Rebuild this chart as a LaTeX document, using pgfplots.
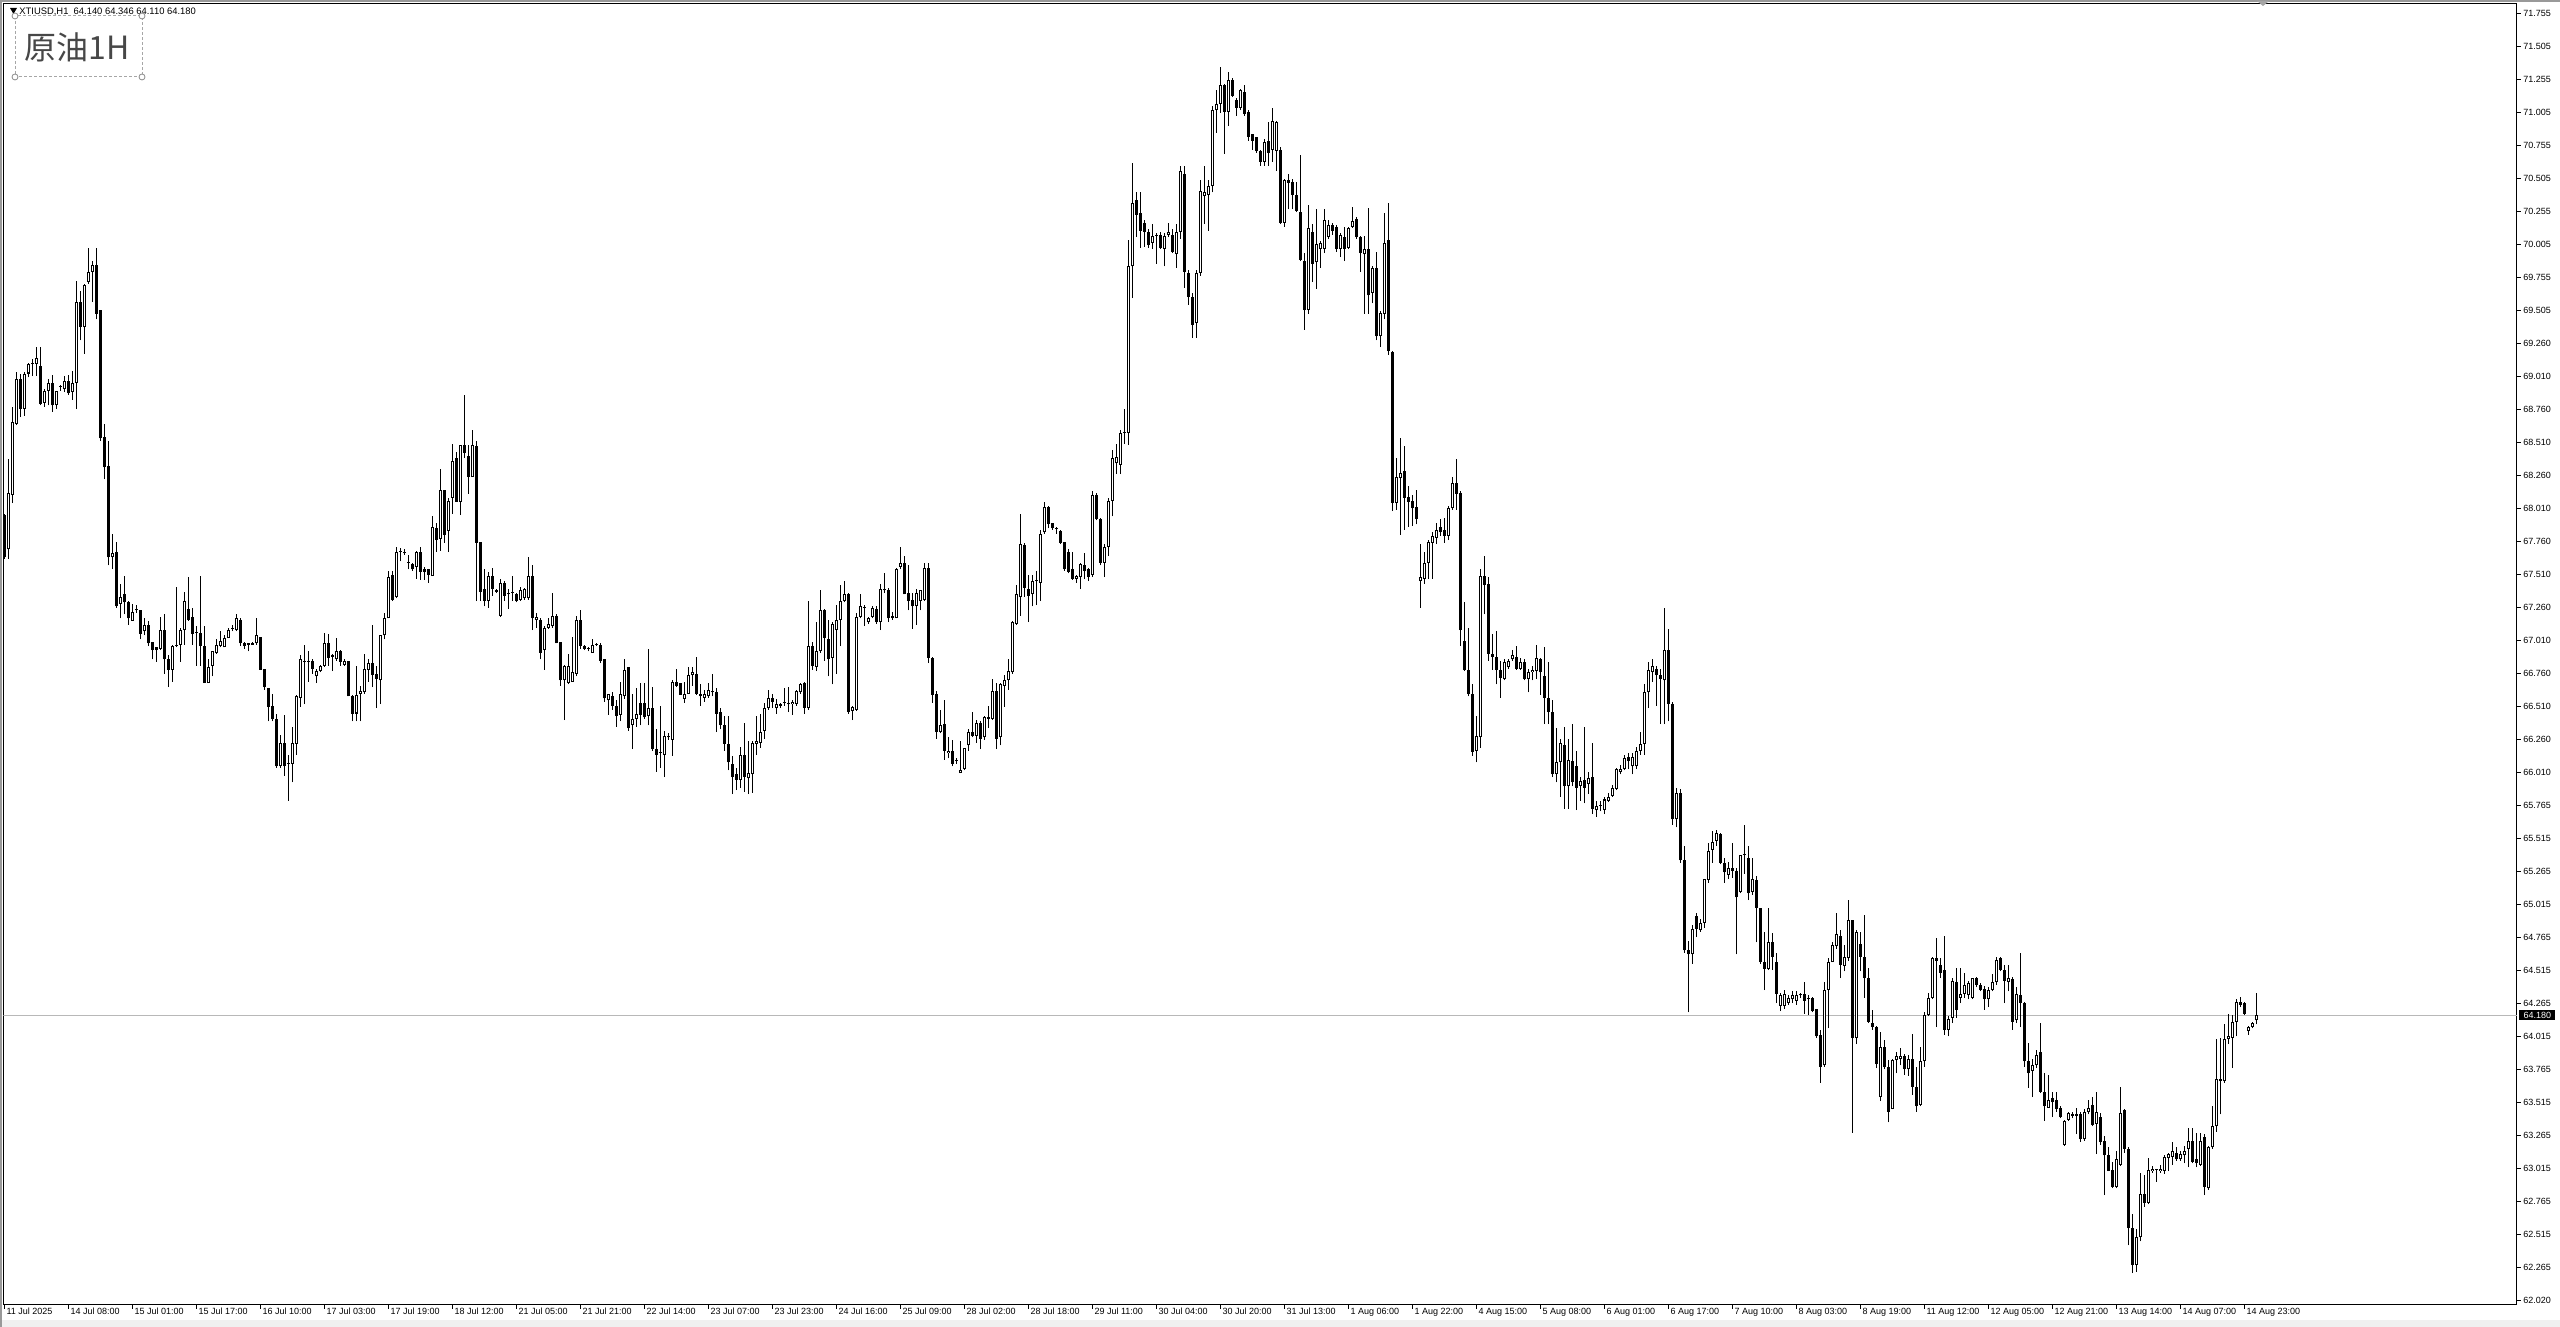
\documentclass[border=0pt]{standalone}
\usepackage{pgfplots}
\pgfplotsset{compat=1.18}
\usepackage{pgfplotstable}
\usepackage{fontspec}
\setmainfont{Liberation Sans}
\newfontfamily\cjk{Noto Sans CJK SC}

\pgfplotstableread{
o h l c
67.96 67.97 67.63 67.64
67.70 68.38 67.63 68.13
68.11 68.78 68.05 68.66
68.65 69.04 68.64 68.99
68.99 69.03 68.70 68.76
68.76 69.04 68.71 69.03
69.03 69.11 69.00 69.10
69.10 69.14 69.01 69.11
69.10 69.23 69.01 69.15
69.09 69.23 68.79 68.80
68.81 68.91 68.78 68.90
68.90 68.99 68.79 68.96
68.96 69.02 68.74 68.79
68.79 68.90 68.76 68.90
68.93 68.94 68.90 68.935
68.91 69.01 68.89 68.97
68.97 69.02 68.87 68.88
68.89 69.05 68.83 68.96
68.96 69.73 68.76 69.57
69.57 69.65 69.28 69.38
69.38 69.71 69.18 69.70
69.72 69.98 69.71 69.80
69.80 69.88 69.57 69.85
69.85 69.98 69.44 69.48
69.51 69.51 68.52 68.54
68.55 68.65 68.23 68.32
68.33 68.52 67.58 67.64
67.64 67.82 67.55 67.67
67.68 67.76 67.26 67.27
67.29 67.44 67.18 67.34
67.36 67.50 67.21 67.30
67.30 67.31 67.13 67.18
67.16 67.29 67.16 67.23
67.24 67.28 67.22 67.24
67.24 67.24 67.02 67.06
67.08 67.18 67.05 67.13
67.13 67.16 66.97 66.99
67.00 67.00 66.87 66.94
66.96 66.96 66.85 66.94
66.95 67.19 66.94 67.09
67.09 67.21 66.76 66.87
66.87 66.90 66.66 66.79
66.79 66.98 66.70 66.97
66.97 67.42 66.96 66.98
66.98 67.11 66.85 67.09
67.09 67.38 66.98 67.31
67.25 67.49 67.16 67.17
67.19 67.26 66.98 67.06
67.07 67.12 66.82 67.07
67.07 67.50 66.82 66.97
66.97 67.12 66.69 66.69
66.69 66.87 66.69 66.81
66.82 66.93 66.74 66.93
66.92 67.02 66.91 66.98
66.97 67.08 66.96 67.01
66.96 67.05 66.96 67.03
67.03 67.11 67.03 67.09
67.10 67.13 67.08 67.11
67.09 67.21 67.08 67.18
67.17 67.18 66.97 66.99
66.99 67.00 66.95 66.97
66.99 66.99 66.93 66.98
66.98 67.00 66.98 66.99
66.99 67.18 66.98 67.05
67.04 67.04 66.79 66.79
66.80 66.80 66.64 66.66
66.65 66.65 66.40 66.51
66.52 66.61 66.40 66.42
66.42 66.46 66.05 66.06
66.06 66.30 66.05 66.24
66.24 66.45 65.99 66.06
66.08 66.15 65.80 66.085
66.08 66.36 65.94 66.24
66.23 66.60 66.15 66.59
66.58 66.90 66.51 66.87
66.86 66.98 66.53 66.85
66.85 66.93 66.70 66.86
66.86 66.87 66.76 66.80
66.74 66.80 66.69 66.78
66.78 66.83 66.77 66.82
66.82 67.07 66.81 66.99
66.99 67.06 66.82 66.88
66.89 66.91 66.78 66.90
66.87 67.03 66.86 66.93
66.93 66.94 66.82 66.85
66.83 66.87 66.82 66.86
66.86 66.86 66.59 66.59
66.59 66.60 66.40 66.46
66.46 66.82 66.40 66.60
66.61 66.67 66.40 66.63
66.62 66.91 66.61 66.80
66.79 66.87 66.70 66.84
66.84 67.13 66.66 66.75
66.76 66.82 66.50 66.72
66.71 67.05 66.53 67.05
67.05 67.22 67.02 67.18
67.18 67.54 67.18 67.49
67.51 67.54 67.31 67.32
67.34 67.72 67.33 67.68
67.68 67.71 67.61 67.685
67.67 67.70 67.66 67.68
67.60 67.66 67.55 67.605
67.59 67.60 67.54 67.55
67.57 67.69 67.48 67.68
67.68 67.72 67.47 67.53
67.55 67.57 67.47 67.53
67.55 67.55 67.45 67.51
67.50 67.95 67.50 67.87
67.86 67.90 67.68 67.77
67.78 68.31 67.69 68.15
68.15 68.15 67.75 67.81
67.84 68.09 67.68 68.07
68.09 68.50 67.97 68.37
68.39 68.44 68.06 68.06
68.06 68.49 67.96 68.49
68.49 68.87 68.39 68.43
68.41 68.49 68.12 68.25
68.25 68.60 68.25 68.49
68.48 68.52 67.31 67.75
67.76 67.76 67.31 67.38
67.40 67.55 67.27 67.31
67.31 67.53 67.26 67.50
67.50 67.56 67.35 67.40
67.39 67.40 67.37 67.38
67.20 67.48 67.19 67.45
67.45 67.46 67.31 67.35
67.36 67.40 67.25 67.365
67.37 67.50 67.31 67.375
67.36 67.37 67.30 67.31
67.32 67.42 67.31 67.39
67.33 67.41 67.32 67.40
67.33 67.64 67.32 67.50
67.50 67.58 67.09 67.18
67.17 67.22 67.11 67.19
67.17 67.18 66.87 66.92
66.94 67.12 66.79 67.11
67.11 67.18 67.10 67.14
67.12 67.37 67.11 67.20
67.20 67.21 66.99 66.99
67.00 67.00 66.67 66.71
66.71 66.83 66.41 66.82
66.69 66.91 66.68 66.82
66.70 67.04 66.70 66.77
66.76 67.20 66.74 67.17
67.17 67.24 66.95 66.97
66.97 66.98 66.94 66.95
66.95 66.96 66.93 66.955
66.92 67.02 66.92 66.98
66.98 66.99 66.97 66.985
66.98 66.99 66.84 66.86
66.87 66.87 66.55 66.575
66.56 66.61 66.45 66.61
66.59 66.62 66.49 66.52
66.52 66.56 66.36 66.44
66.45 66.70 66.40 66.61
66.59 66.87 66.57 66.79
66.81 66.81 66.33 66.35
66.37 66.61 66.19 66.42
66.42 66.65 66.36 66.46
66.54 66.69 66.37 66.45
66.54 66.69 66.42 66.43
66.44 66.95 66.37 66.50
66.50 66.66 66.18 66.19
66.19 66.34 66.02 66.15
66.16 66.52 66.05 66.165
66.15 66.33 65.98 66.29
66.28 66.31 66.26 66.29
66.26 66.71 66.14 66.70
66.70 66.80 66.66 66.67
66.69 66.69 66.60 66.60
66.57 66.70 66.54 66.61
66.61 66.81 66.61 66.75
66.75 66.81 66.67 66.77
66.76 66.89 66.60 66.61
66.61 66.68 66.52 66.59
66.58 66.64 66.55 66.61
66.59 66.69 66.58 66.64
66.63 66.76 66.59 66.62
66.62 66.65 66.32 66.46
66.47 66.50 66.34 66.37
66.37 66.44 66.18 66.23
66.23 66.44 66.03 66.09
66.08 66.14 65.85 65.98
66.00 66.05 65.88 65.96
65.96 66.21 65.90 66.15
66.15 66.39 65.87 65.98
65.97 66.25 65.85 66.01
66.00 66.25 65.86 66.24
66.23 66.44 66.15 66.25
66.24 66.46 66.20 66.32
66.33 66.54 66.27 66.50
66.50 66.64 66.49 66.575
66.575 66.61 66.50 66.55
66.50 66.57 66.46 66.53
66.52 66.54 66.50 66.53
66.55 66.65 66.52 66.54
66.53 66.66 66.47 66.535
66.53 66.56 66.45 66.55
66.53 66.64 66.52 66.63
66.62 66.69 66.61 66.68
66.69 66.70 66.46 66.50
66.50 67.31 66.49 66.97
66.97 67.00 66.79 66.82
66.81 67.15 66.78 66.93
66.93 67.39 66.92 67.24
67.24 67.25 66.86 67.03
67.02 67.17 66.74 66.87
66.88 67.15 66.68 67.14
67.09 67.28 66.76 67.17
67.17 67.43 66.97 67.31
67.31 67.46 67.30 67.36
67.36 67.37 66.46 66.47
66.48 66.52 66.41 66.51
66.49 67.22 66.48 67.19
67.19 67.36 67.18 67.27
67.26 67.28 67.12 67.265
67.15 67.19 67.14 67.18
67.19 67.27 67.18 67.26
67.25 67.27 67.14 67.15
67.15 67.44 67.09 67.40
67.40 67.52 67.37 67.39
67.39 67.41 67.15 67.18
67.20 67.23 67.17 67.18
67.18 67.56 67.18 67.55
67.57 67.72 67.55 67.60
67.60 67.65 67.36 67.36
67.37 67.58 67.24 67.31
67.32 67.37 67.10 67.27
67.27 67.40 67.13 67.37
67.31 67.39 67.24 67.39
67.32 67.60 67.31 67.56
67.56 67.60 66.84 66.88
66.88 66.89 66.54 66.60
66.61 66.63 66.27 66.32
66.32 66.49 66.31 66.37
66.38 66.56 66.11 66.18
66.16 66.28 66.12 66.18
66.18 66.26 66.06 66.08
66.10 66.12 66.08 66.105
66.01 66.25 66.01 66.03
66.04 66.20 66.03 66.20
66.22 66.34 66.18 66.32
66.32 66.47 66.28 66.29
66.29 66.41 66.24 66.39
66.39 66.40 66.19 66.27
66.28 66.44 66.26 66.43
66.42 66.52 66.35 66.43
66.42 66.72 66.41 66.63
66.63 66.69 66.19 66.27
66.28 66.69 66.22 66.68
66.67 66.75 66.51 66.71
66.71 66.87 66.64 66.78
66.77 67.16 66.76 67.15
67.14 67.43 67.13 67.36
67.34 67.97 67.20 67.74
67.73 67.75 67.34 67.41
67.40 67.51 67.15 67.35
67.36 67.51 67.27 67.46
67.46 67.54 67.28 67.465
67.45 67.85 67.31 67.82
67.83 68.06 67.82 68.02
68.02 68.03 67.86 67.89
67.90 67.90 67.85 67.86
67.855 67.87 67.82 67.86
67.84 67.85 67.74 67.75
67.76 67.76 67.54 67.55
67.68 67.70 67.52 67.53
67.55 67.68 67.47 67.48
67.48 67.51 67.45 67.50
67.49 67.60 67.40 67.59
67.58 67.67 67.48 67.54
67.55 67.56 67.46 67.49
67.51 68.14 67.49 68.11
68.11 68.13 67.92 67.93
67.93 67.94 67.58 67.60
67.60 67.74 67.49 67.72
67.72 68.09 67.65 68.07
68.07 68.45 67.95 68.39
68.35 68.50 68.27 68.40
68.34 68.60 68.27 68.58
68.58 68.76 68.50 68.59
68.58 70.04 68.49 69.84
69.84 70.62 69.60 70.32
70.34 70.40 70.06 70.23
70.24 70.40 69.98 70.11
70.17 70.19 69.99 70.10
70.10 70.12 69.98 70.00
70.02 70.16 69.97 70.07
70.07 70.09 69.86 70.075
70.08 70.10 69.97 69.98
69.97 70.09 69.84 70.07
70.08 70.17 70.06 70.10
70.08 70.12 69.94 69.95
69.93 70.16 69.83 70.10
70.10 70.60 70.05 70.56
70.54 70.60 69.68 69.80
69.79 69.81 69.55 69.61
69.61 69.64 69.30 69.40
69.41 69.81 69.30 69.79
69.79 70.49 69.77 70.41
70.37 70.60 70.16 70.40
70.38 70.49 70.11 70.45
70.45 71.05 70.40 71.02
71.02 71.17 70.85 71.07
71.07 71.35 71.00 71.21
71.21 71.22 70.69 71.01
71.01 71.31 70.90 71.25
71.25 71.26 71.12 71.13
71.10 71.11 70.98 71.04
71.04 71.18 71.02 71.17
71.16 71.21 70.98 70.99
71.01 71.02 70.79 70.82
70.84 70.84 70.72 70.79
70.82 70.82 70.70 70.71
70.71 70.72 70.60 70.63
70.63 70.80 70.60 70.78
70.79 70.93 70.60 70.70
70.72 71.04 70.63 70.94
70.71 70.94 70.56 70.93
70.72 70.74 70.16 70.17
70.17 70.50 70.14 70.49
70.49 70.54 70.27 70.47
70.48 70.50 70.27 70.38
70.38 70.48 70.25 70.26
70.25 70.68 69.88 69.89
69.88 69.94 69.36 69.51
69.51 70.30 69.48 70.13
70.10 70.16 69.72 69.86
69.87 70.27 69.67 70.01
69.97 70.03 69.83 70.02
69.97 70.27 69.94 70.19
70.06 70.19 70.05 70.15
70.15 70.17 70.08 70.11
70.14 70.15 69.95 69.97
69.97 70.09 69.91 70.08
70.06 70.14 69.88 69.97
69.98 70.14 69.97 70.13
70.14 70.29 70.13 70.18
70.20 70.21 70.05 70.06
70.06 70.07 69.80 69.94
69.93 70.07 69.48 69.97
69.97 70.28 69.48 69.62
69.64 69.84 69.56 69.83
69.83 69.95 69.28 69.31
69.31 69.50 69.23 69.49
69.48 70.24 69.44 70.02
70.04 70.32 69.17 69.20
69.19 69.20 67.99 68.05
68.05 68.39 68.00 68.25
68.24 68.54 67.81 68.28
68.29 68.48 67.85 68.09
68.10 68.18 67.87 68.06
68.07 68.11 67.88 68.01
68.02 68.15 67.89 67.93
67.46 67.74 67.26 67.49
67.48 67.68 67.44 67.60
67.60 67.77 67.48 67.76
67.75 67.83 67.48 67.80
67.79 67.90 67.74 67.85
67.87 67.93 67.80 67.83
67.85 67.94 67.75 67.80
67.80 68.03 67.77 68.01
68.01 68.25 68.00 68.20
68.20 68.38 68.00 68.12
68.13 68.14 66.97 67.09
67.01 67.30 66.78 66.79
66.79 67.11 66.59 66.61
66.61 66.68 66.14 66.17
66.18 66.44 66.09 66.29
66.28 67.55 66.20 67.50
67.50 67.65 67.21 67.43
67.44 67.49 66.86 66.91
66.91 67.06 66.79 66.89
66.89 67.08 66.68 66.79
66.79 66.86 66.58 66.73
66.72 66.87 66.71 66.85
66.81 66.87 66.80 66.86
66.87 66.94 66.86 66.90
66.89 66.97 66.79 66.80
66.80 66.88 66.79 66.85
66.85 66.87 66.71 66.72
66.72 66.80 66.62 66.77
66.77 66.82 66.71 66.79
66.78 66.98 66.72 66.88
66.87 66.88 66.60 66.77
66.74 66.96 66.38 66.58
66.58 66.85 66.38 66.47
66.47 66.56 65.98 66.00
66.00 66.35 65.94 66.09
66.09 66.27 65.83 66.24
66.22 66.36 65.74 65.91
65.91 66.27 65.74 66.11
66.10 66.38 65.91 65.94
66.06 66.18 65.73 65.90
65.91 65.98 65.80 65.95
65.96 66.36 65.78 65.90
65.93 66.02 65.85 65.97
65.98 66.24 65.70 65.74
65.73 65.80 65.68 65.76
65.76 65.80 65.72 65.765
65.73 65.83 65.70 65.81
65.80 65.86 65.79 65.83
65.84 65.92 65.83 65.90
65.89 66.05 65.88 66.04
66.02 66.07 66.00 66.04
66.04 66.15 66.03 66.12
66.13 66.16 66.04 66.10
66.06 66.16 66.00 66.13
66.06 66.21 66.04 66.18
66.18 66.32 66.15 66.23
66.23 66.68 66.15 66.62
66.62 66.85 66.50 66.79
66.77 66.87 66.70 66.82
66.80 66.82 66.52 66.75
66.75 66.80 66.38 66.72
66.71 67.26 66.38 66.94
66.94 67.10 66.40 66.53
66.53 66.55 65.62 65.66
65.66 65.90 65.60 65.86
65.86 65.89 65.33 65.35
65.35 65.46 64.65 64.67
64.67 64.74 64.20 64.64
64.64 64.86 64.57 64.83
64.93 64.95 64.77 64.83
64.82 64.91 64.81 64.88
64.88 65.21 64.84 65.21
65.20 65.48 65.18 65.42
65.43 65.57 65.33 65.49
65.50 65.58 65.46 65.56
65.55 65.56 65.32 65.33
65.33 65.37 65.18 65.26
65.24 65.34 65.21 65.29
65.29 65.48 65.22 65.27
65.27 65.29 64.64 65.07
65.11 65.39 65.10 65.39
65.39 65.62 65.25 65.40
65.37 65.46 65.05 65.10
65.11 65.37 65.09 65.21
65.20 65.23 64.73 64.99
64.99 64.99 64.57 64.58
64.58 64.81 64.37 64.53
64.53 64.99 64.52 64.73
64.73 64.80 64.52 64.62
64.58 64.65 64.27 64.34
64.25 64.35 64.21 64.33
64.25 64.37 64.23 64.34
64.27 64.33 64.26 64.31
64.30 64.36 64.27 64.33
64.29 64.36 64.26 64.33
64.33 64.35 64.31 64.335
64.34 64.43 64.19 64.29
64.305 64.33 64.18 64.30
64.31 64.32 64.20 64.21
64.23 64.23 64.01 64.02
64.03 64.07 63.67 63.79
63.80 64.43 63.79 64.37
64.37 64.61 64.08 64.58
64.58 64.73 64.58 64.71
64.70 64.95 64.68 64.79
64.78 64.82 64.46 64.56
64.55 64.71 64.51 64.62
64.61 65.05 64.59 64.90
64.90 64.90 63.29 64.01
64.01 64.82 63.96 64.81
64.72 64.81 64.51 64.62
64.62 64.94 64.31 64.46
64.46 64.54 64.12 64.13
64.12 64.22 64.07 64.09
64.09 64.10 63.78 63.81
63.56 64.05 63.53 63.94
63.94 63.99 63.77 63.79
63.79 63.84 63.37 63.45
63.47 63.85 63.47 63.84
63.84 63.90 63.74 63.87
63.85 63.93 63.80 63.87
63.87 63.89 63.73 63.77
63.77 63.88 63.72 63.85
63.85 64.04 63.58 63.64
63.64 63.79 63.45 63.49
63.50 63.94 63.49 63.83
63.83 64.20 63.79 64.18
64.18 64.35 64.17 64.31
64.31 64.62 64.30 64.61
64.61 64.76 64.09 64.59
64.56 64.61 64.46 64.50
64.52 64.78 64.03 64.07
64.07 64.17 64.02 64.15
64.16 64.46 64.12 64.44
64.43 64.54 64.16 64.22
64.31 64.54 64.27 64.34
64.34 64.50 64.31 64.41
64.33 64.44 64.30 64.42
64.31 64.46 64.30 64.46
64.46 64.47 64.39 64.41
64.41 64.42 64.36 64.37
64.38 64.40 64.22 64.30
64.30 64.39 64.24 64.37
64.37 64.49 64.36 64.43
64.43 64.62 64.41 64.60
64.61 64.62 64.51 64.52
64.52 64.56 64.27 64.44
64.43 64.56 64.36 64.46
64.45 64.47 64.07 64.13
64.14 64.39 64.12 64.34
64.33 64.65 64.09 64.27
64.27 64.28 63.79 63.83
63.83 63.97 63.63 63.74
63.76 63.85 63.56 63.80
63.80 63.92 63.78 63.88
63.90 64.12 63.59 63.60
63.60 63.74 63.38 63.49
63.48 63.73 63.48 63.54
63.55 63.60 63.41 63.52
63.54 63.60 63.45 63.47
63.48 63.49 63.40 63.41
63.20 63.39 63.19 63.38
63.39 63.45 63.38 63.44
63.42 63.45 63.40 63.43
63.42 63.48 63.28 63.43
63.43 63.45 63.22 63.24
63.24 63.47 63.23 63.45
63.45 63.54 63.43 63.48
63.50 63.56 63.34 63.35
63.36 63.60 63.13 63.45
63.41 63.44 63.20 63.22
63.23 63.27 62.82 63.12
63.12 63.18 63.00 63.00
63.01 63.07 62.87 62.88
62.88 63.15 62.87 63.09
63.05 63.64 63.04 63.44
63.46 63.47 63.14 63.17
63.17 63.18 62.44 62.57
62.57 62.68 62.23 62.29
62.29 62.56 62.24 62.50
62.50 62.99 62.47 62.83
62.83 62.97 62.73 62.76
62.76 63.10 62.75 63.01
63.00 63.04 62.99 63.02
63.01 63.02 62.92 63.015
63.00 63.05 62.99 63.02
63.00 63.12 62.98 63.11
63.10 63.14 63.00 63.13
63.11 63.22 63.05 63.15
63.14 63.18 63.08 63.09
63.09 63.15 63.08 63.13
63.12 63.19 63.06 63.15
63.17 63.33 63.03 63.23
63.23 63.33 63.06 63.07
63.09 63.29 63.03 63.06
63.05 63.29 63.04 63.23
63.26 63.28 62.82 62.88
62.87 63.19 62.86 63.18
63.18 63.49 63.17 63.34
63.34 64.00 63.30 63.70
63.70 64.01 63.43 63.68
63.68 64.11 63.67 64.00
64.00 64.19 63.96 64.02
64.01 64.18 63.78 64.13
64.13 64.30 64.02 64.28
64.28 64.32 64.24 64.26
64.27 64.28 64.18 64.19
64.06 64.10 64.03 64.09
64.09 64.13 64.08 64.12
64.14 64.346 64.11 64.18
}\candles

\begin{document}
\begin{tikzpicture}[x=1pt,y=1pt]
\useasboundingbox (0,0) rectangle (1280,663.5);
\fill[white] (0,0) rectangle (1280,663.5);
\fill[black!6] (0,0) rectangle (1280,3.3);
\draw[black!40, line width=1pt] (0.5,0) -- (0.5,663.5);
\draw[black!40, line width=1pt] (0,663) -- (1280,663);
\begin{axis}[
  at={(1.75pt,11pt)}, anchor=south west,
  scale only axis, width=1256.75pt, height=650.75pt,
  xmin=-0.375, xmax=628, ymin=61.989, ymax=71.827,
  clip mode=individual,
  axis line style={black, line width=0.5pt},
  tick style={black, line width=0.5pt},
  tick align=outside, major tick length=2pt,
  xtick pos=bottom, ytick pos=right, yticklabel pos=right,
  xtick={0,16,...,560},
  xticklabels={11 Jul 2025,14 Jul 08:00,15 Jul 01:00,15 Jul 17:00,16 Jul 10:00,17 Jul 03:00,17 Jul 19:00,18 Jul 12:00,21 Jul 05:00,21 Jul 21:00,22 Jul 14:00,23 Jul 07:00,23 Jul 23:00,24 Jul 16:00,25 Jul 09:00,28 Jul 02:00,28 Jul 18:00,29 Jul 11:00,30 Jul 04:00,30 Jul 20:00,31 Jul 13:00,1 Aug 06:00,1 Aug 22:00,4 Aug 15:00,5 Aug 08:00,6 Aug 01:00,6 Aug 17:00,7 Aug 10:00,8 Aug 03:00,8 Aug 19:00,11 Aug 12:00,12 Aug 05:00,12 Aug 21:00,13 Aug 14:00,14 Aug 07:00,14 Aug 23:00},
  ytick={62.020,62.2696,62.5192,62.7688,63.0185,63.2681,63.5177,63.7673,64.0169,64.2665,64.5162,64.7658,65.0154,65.2650,65.5146,65.7642,66.0138,66.2635,66.5131,66.7627,67.0123,67.2619,67.5115,67.7612,68.0108,68.2604,68.5100,68.7596,69.0092,69.2588,69.5085,69.7581,70.0077,70.2573,70.5069,70.7565,71.0062,71.2558,71.5054,71.755},
  yticklabels={62.020,62.265,62.515,62.765,63.015,63.265,63.515,63.765,64.015,64.265,64.515,64.765,65.015,65.265,65.515,65.765,66.010,66.260,66.510,66.760,67.010,67.260,67.510,67.760,68.010,68.260,68.510,68.760,69.010,69.260,69.505,69.755,70.005,70.255,70.505,70.755,71.005,71.255,71.505,71.755},
  tick label style={font=\fontsize{4.5}{5}\selectfont, inner sep=0pt},
  xticklabel style={anchor=north west, xshift=0.6pt, yshift=0.5pt},
  yticklabel style={anchor=west, xshift=1pt},
]
\addplot[draw=black!28, line width=0.5pt, forget plot] coordinates {(-0.375,64.18) (628,64.18)};
% wicks
\addplot[draw=none, mark=none, forget plot,
  error bars/.cd, y dir=plus, y explicit, error mark=none,
  error bar style={draw=black, solid, line width=0.5pt}]
  table[x expr=\coordindex, y=l, y error plus expr={\thisrow{h}-\thisrow{l}}] {\candles};
% bodies
\addplot[draw=none, mark=none, forget plot,
  error bars/.cd, y dir=plus, y explicit, error mark=none,
  error bar style={draw=black, solid, line width=1.5pt}]
  table[x expr=\coordindex, y expr={min(\thisrow{o},\thisrow{c})}, y error plus expr={max(abs(\thisrow{c}-\thisrow{o}),0.0076)}] {\candles};
% hollow insides of rising candles
\addplot[draw=none, mark=none, forget plot,
  error bars/.cd, y dir=plus, y explicit, error mark=none,
  error bar style={draw=white, solid, line width=0.5pt}]
  table[x expr=\coordindex, y expr={\thisrow{o}+0.0076}, y error plus expr={max(\thisrow{c}-\thisrow{o}-0.0152,0)}] {\candles};
\end{axis}
% current price label
\node[fill=black, text=white, anchor=west, inner sep=0pt, minimum width=18pt, minimum height=5pt, font=\fontsize{4.5}{5}\selectfont] at (1259.5,156) {64.180};
% header
\fill[black] (5,659.5) -- (8.5,659.5) -- (6.75,656.5) -- cycle;
\node[anchor=west, inner sep=0pt, font=\fontsize{4.7}{5}\selectfont] at (9.5,657.8) {XTIUSD,H1\ \ 64.140 64.346 64.110 64.180};
\draw[black!35, dash pattern=on 1.5pt off 1pt, line width=0.5pt] (7.5,655.5) rectangle (71,625);
\foreach \p in {(7.5,655.5),(71,655.5),(7.5,625),(71,625)} \draw[black!45, fill=white, line width=0.4pt] \p circle (1.5);
\node[text=black!72, inner sep=0pt, font=\cjk\fontsize{16}{16}\selectfont] at (38.5,640) {原油1H};
\fill[black!35] (1128.5,663) -- (1134.5,663) -- (1131.5,660.5) -- cycle;
\end{tikzpicture}
\end{document}
